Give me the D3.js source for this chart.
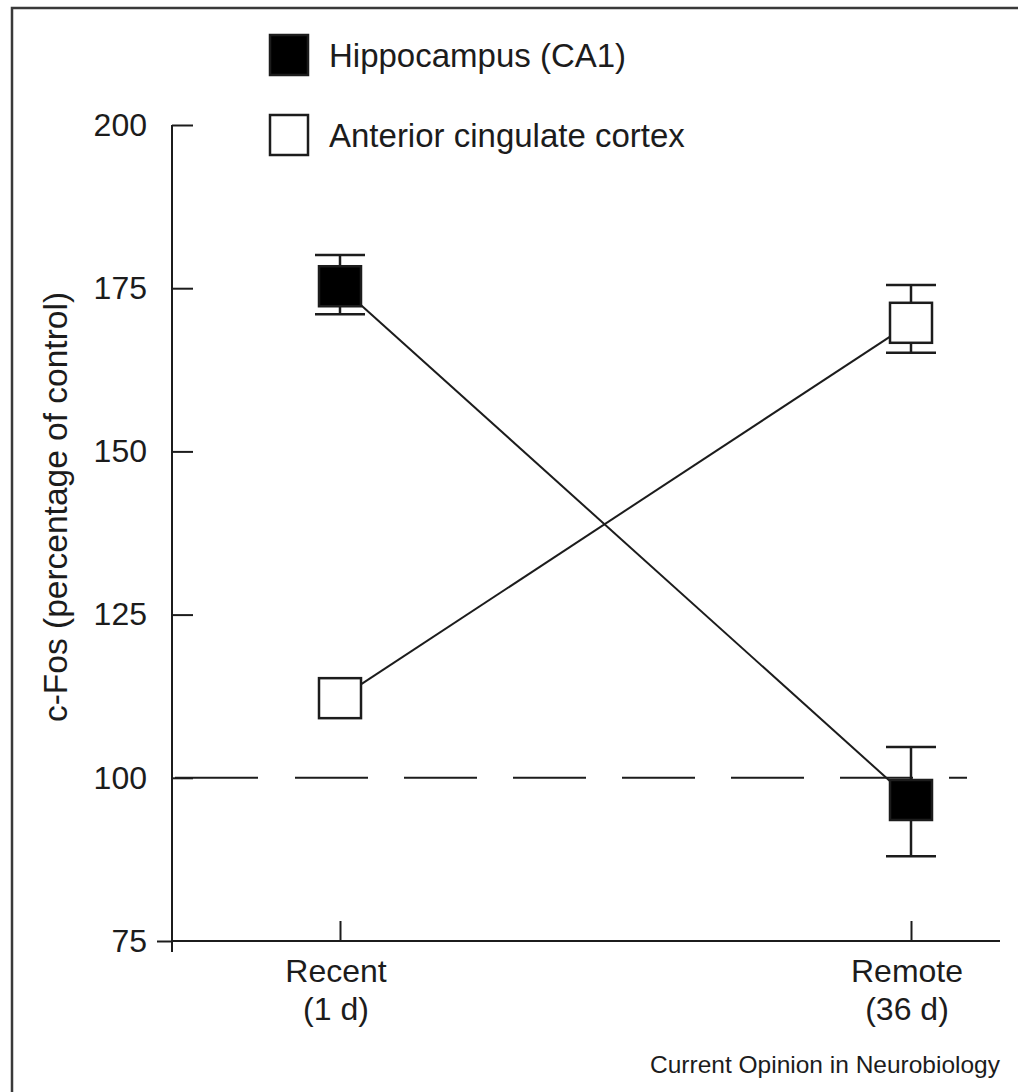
<!DOCTYPE html>
<html>
<head>
<meta charset="utf-8">
<script src="https://cdn.jsdelivr.net/npm/d3@7"></script>
<style>
  body { margin: 0; background: #fff; }
  svg { display: block; font-family: "Liberation Sans", Arial, sans-serif; }
</style>
</head>
<body>
<svg class="chart" width="1018" height="1092"></svg>
<script>
// data
var categories = ["Recent", "Remote"];
var categoryLabels = [["Recent", "(1 d)"], ["Remote", "(36 d)"]];
var yTicks = [75, 100, 125, 150, 175, 200];

var hippMean = [175.3, 96.6];
var hippLow  = [171.0, 88.0];
var hippHigh = [180.1, 104.7];

var accMean = [112.2, 169.7];
var accLow  = [112.2, 165.1];
var accHigh = [112.2, 175.5];

var baseline = 100;

var seriesNames = ["Hippocampus (CA1)", "Anterior cingulate cortex"];
var seriesFill = ["#000", "#fff"];

var series = [
  { name: seriesNames[0], fill: seriesFill[0], mean: hippMean, low: hippLow, high: hippHigh },
  { name: seriesNames[1], fill: seriesFill[1], mean: accMean, low: accLow, high: accHigh }
];

var ink = "#1c1c1c",
    fontSize = 32,
    markW = 42, markH = 40, capW = 50;

var chart = d3.select("svg.chart");

// frame (only top and left edges show)
chart.append("rect")
  .attr("x", 12).attr("y", 8)
  .attr("width", 1040).attr("height", 1120)
  .attr("fill", "none").attr("stroke", "#3a3a3a").attr("stroke-width", 2.5);

var xScale = d3.scalePoint().domain(categories).range([340, 911]);
var yScale = d3.scaleLinear().domain([75, 200]).range([941, 125]);

// y axis
var yAxis = d3.axisLeft(yScale)
  .tickValues(yTicks)
  .tickSizeInner(-21)
  .tickSizeOuter(0)
  .tickPadding(25);

var yG = chart.append("g").attr("transform", "translate(172,0)").call(yAxis);
yG.select(".domain").remove();
yG.append("line")
  .attr("x1", 0).attr("x2", 0)
  .attr("y1", yScale(200)).attr("y2", yScale(75) + 11)
  .attr("stroke", ink).attr("stroke-width", 2);
yG.selectAll(".tick line").attr("stroke", ink).attr("stroke-width", 2);
yG.selectAll(".tick").filter(function(d) { return d === 75; })
  .select("line").attr("x2", -15);
yG.selectAll(".tick text")
  .attr("fill", ink)
  .style("font-size", fontSize + "px")
  .style("font-family", "Liberation Sans, Arial, sans-serif");

// x axis
var xAxis = d3.axisBottom(xScale).tickSizeInner(-20).tickSizeOuter(0).tickFormat("");
var xG = chart.append("g").attr("transform", "translate(0," + yScale(75) + ")").call(xAxis);
xG.select(".domain").remove();
xG.append("line")
  .attr("x1", 172).attr("x2", 1000)
  .attr("stroke", ink).attr("stroke-width", 2);
xG.selectAll(".tick line").attr("stroke", ink).attr("stroke-width", 2);
xG.selectAll(".tick text").remove();

xG.selectAll("text.cat")
  .data(categoryLabels)
  .enter()
  .append("text")
  .attr("class", "cat")
  .attr("x", function(d, i) { return xScale(categories[i]) - 4; })
  .attr("text-anchor", "middle")
  .attr("fill", ink)
  .style("font-size", fontSize + "px")
  .each(function(d) {
    var t = d3.select(this);
    d.forEach(function(line, j) {
      t.append("tspan")
        .attr("x", t.attr("x"))
        .attr("y", 41 + j * 38)
        .text(line);
    });
  });

// y label
chart.append("text")
  .attr("transform", "translate(67," + 507 + ") rotate(-90)")
  .attr("text-anchor", "middle")
  .attr("fill", ink)
  .style("font-size", "33.5px")
  .text("c-Fos (percentage of control)");

// dashed control line at 100%
chart.append("line")
  .attr("x1", 175).attr("x2", 967)
  .attr("y1", yScale(baseline)).attr("y2", yScale(baseline))
  .attr("stroke", ink).attr("stroke-width", 2)
  .attr("stroke-dasharray", "83,37,73,36,73,36,73,36,73,36,73,36,73,36,73,36");

// connecting lines
var line = d3.line()
  .x(function(d, i) { return xScale(categories[i]); })
  .y(function(d) { return yScale(d); });

chart.selectAll("path.series")
  .data(series)
  .enter()
  .append("path")
  .attr("class", "series")
  .attr("d", function(s) { return line(s.mean); })
  .attr("fill", "none")
  .attr("stroke", ink)
  .attr("stroke-width", 2);

// error bars and markers
series.forEach(function(s) {
  var g = chart.append("g");
  categories.forEach(function(c, i) {
    var cx = xScale(c);
    if (s.high[i] !== s.low[i]) {
      g.append("line")
        .attr("x1", cx).attr("x2", cx)
        .attr("y1", yScale(s.high[i])).attr("y2", yScale(s.low[i]))
        .attr("stroke", ink).attr("stroke-width", 2.5);
      [s.high[i], s.low[i]].forEach(function(v) {
        g.append("line")
          .attr("x1", cx - capW / 2).attr("x2", cx + capW / 2)
          .attr("y1", yScale(v)).attr("y2", yScale(v))
          .attr("stroke", ink).attr("stroke-width", 2.5);
      });
    }
    g.append("rect")
      .attr("x", cx - markW / 2)
      .attr("y", yScale(s.mean[i]) - markH / 2)
      .attr("width", markW).attr("height", markH)
      .attr("fill", s.fill)
      .attr("stroke", ink).attr("stroke-width", 2.5);
  });
});

// legend
var legend = chart.append("g").attr("transform", "translate(270,35)");
var item = legend.selectAll("g")
  .data(series)
  .enter()
  .append("g")
  .attr("transform", function(d, i) { return "translate(0," + (i * 80) + ")"; });
item.append("rect")
  .attr("width", 38).attr("height", 40)
  .attr("fill", function(d) { return d.fill; })
  .attr("stroke", ink).attr("stroke-width", 2.5);
item.append("text")
  .attr("x", 59).attr("y", 32)
  .attr("fill", ink)
  .style("font-size", "33px")
  .text(function(d) { return d.name; });

// source
chart.append("text")
  .attr("x", 1000).attr("y", 1073)
  .attr("text-anchor", "end")
  .attr("fill", ink)
  .style("font-size", "24.5px")
  .text("Current Opinion in Neurobiology");
</script>
</body>
</html>
